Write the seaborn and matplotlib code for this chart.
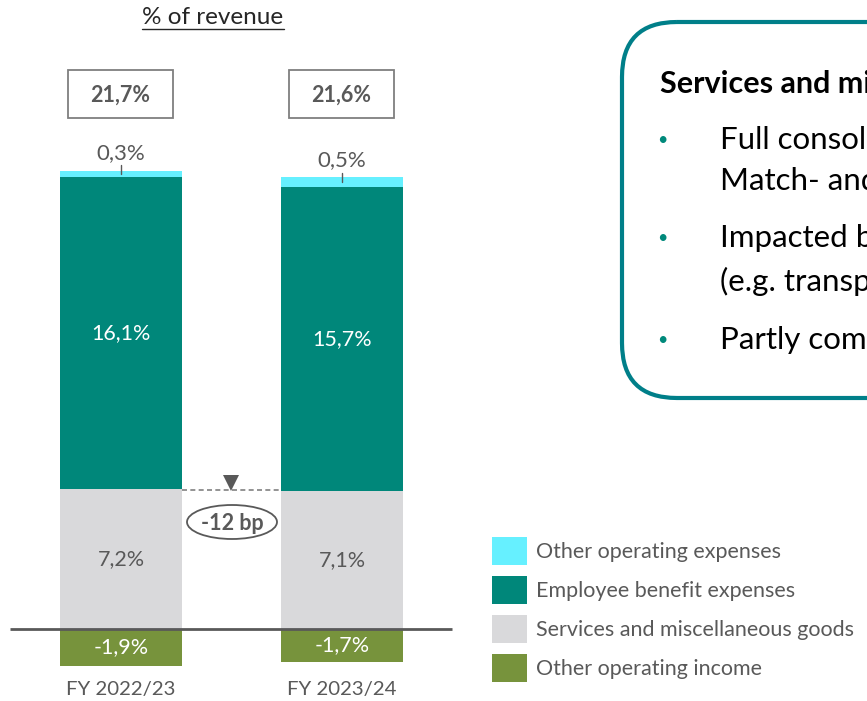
import pandas as pd
import matplotlib.pyplot as plt
import seaborn as sns
from matplotlib.patches import Patch, Rectangle, Ellipse, FancyBboxPatch
from matplotlib.transforms import Affine2D

years = ['FY 2022/23', 'FY 2023/24']
other_opex = [0.3, 0.5]
employee = [16.1, 15.7]
services = [7.2, 7.1]
other_income = [-1.9, -1.7]
total_labels = ['21,7%', '21,6%']
opex_labels = ['0,3%', '0,5%']
employee_labels = ['16,1%', '15,7%']
services_labels = ['7,2%', '7,1%']
income_labels = ['-1,9%', '-1,7%']
delta_label = '-12 bp'
legend_names = ['Other operating expenses', 'Employee benefit expenses',
                'Services and miscellaneous goods', 'Other operating income']
box_title = 'Services and miscellaneous goods'
box_lines = [['Full consolidation of', 'Match- and'],
             ['Impacted by', '(e.g. transport'],
             ['Partly compensated']]

c_opex = '#66F0FF'
c_emp = '#00877A'
c_serv = '#D9D9DB'
c_inc = '#77933C'
grey = '#595959'

sns.set_style('white')
plt.rcParams['font.family'] = ['Lato', 'DejaVu Sans']

W, H = 867, 701
fig = plt.figure(figsize=(W / 100, H / 100), dpi=100)
# pixel coords, origin top-left
px = Affine2D().scale(1 / W, -1 / H).translate(0, 1) + fig.transFigure

ax = fig.add_axes([0, 0, 460 / W, 1])

df = pd.DataFrame({'year': years, 'opex': other_opex, 'emp': employee,
                   'serv': services, 'inc': other_income})
df['top'] = df['serv'] + df['emp'] + df['opex']
df['mid'] = df['serv'] + df['emp']

bw = 122 / 221
for col, c in [('top', c_opex), ('mid', c_emp), ('serv', c_serv), ('inc', c_inc)]:
    sns.barplot(data=df, x='year', y=col, color=c, saturation=1, width=bw,
                errorbar=None, linewidth=0, ax=ax)

ppu = 19.4
ax.set_xlim(-121 / 221, (460 - 121) / 221)
ax.set_ylim(-(H - 629) / ppu, 629 / ppu)
ax.axis('off')

ax.plot([-121 / 221 + 10 / 221, -121 / 221 + 452 / 221], [0, 0], color=grey, lw=2,
        solid_capstyle='butt')

fs = 15.5
for i, row in df.iterrows():
    ax.text(i, row['serv'] + row['emp'] / 2, employee_labels[i], color='white',
            ha='center', va='center', fontsize=fs)
    ax.text(i, row['serv'] / 2, services_labels[i], color=grey,
            ha='center', va='center', fontsize=fs)
    ax.text(i, row['inc'] / 2, income_labels[i], color='white',
            ha='center', va='center', fontsize=fs)
    tick_lo = row['top'] - row['opex'] / 2
    ax.plot([i, i], [tick_lo, tick_lo + 0.48], color=grey, lw=1)
    ax.text(i, tick_lo + 0.58, opex_labels[i], color=grey,
            ha='center', va='bottom', fontsize=16)
    ax.text(i, -(690 - 629) / ppu, years[i], color=grey,
            ha='center', va='center', fontsize=14.7)

# total boxes
for cx, lab in zip([120.5, 341.5], total_labels):
    fig.add_artist(Rectangle((cx - 52.5, 70), 105, 48, transform=px, fill=False,
                             edgecolor='#7F7F7F', lw=1.3))
    fig.text(cx / W, 1 - 95 / H, lab, ha='center', va='center', fontsize=fs,
             fontweight='bold', color=grey)

# delta annotation
y_d = sum(services) / 2
ax.plot([bw / 2, 1 - bw / 2], [y_d, y_d], color='#808080', lw=1.2, ls=(0, (3, 2)))
ax.plot(0.5, y_d + 0.4, marker='v', markersize=12, color=grey, markeredgewidth=0)
fig.add_artist(Ellipse((232, 522), 90, 34, transform=px, fill=False,
                       edgecolor=grey, lw=1.3))
fig.text(232 / W, 1 - 523 / H, delta_label, ha='center', va='center',
         fontsize=fs, fontweight='bold', color=grey)

# title with underline
t = fig.text(213 / W, 1 - 17 / H, '% of revenue', ha='center', va='center',
             fontsize=17.5, color='#262626')
fig.canvas.draw()
bb = t.get_window_extent()
fig.add_artist(plt.Line2D([bb.x0, bb.x1], [H - 28.5, H - 28.5], transform=None,
                          color='#262626', lw=1))

# legend
handles = [Patch(facecolor=c, edgecolor='none') for c in [c_opex, c_emp, c_serv, c_inc]]
fig.legend(handles, legend_names, loc='upper left',
           bbox_to_anchor=(492 / W, 1 - 537 / H), frameon=False, fontsize=fs,
           labelcolor=grey, handlelength=1.62, handleheight=1.6,
           handletextpad=0.41, labelspacing=0.53, borderpad=0, borderaxespad=0)

# comment box
fig.add_artist(FancyBboxPatch((622, 22), 400, 376, transform=px,
                              boxstyle='round,pad=0,rounding_size=55',
                              fill=False, edgecolor='#007F89', lw=3))
fig.text(660 / W, 1 - 84 / H, box_title, ha='left', va='center', fontsize=22,
         fontweight='bold', color='black')
ys = [[140, 181], [238, 281], [340]]
for lines, yy in zip(box_lines, ys):
    fig.text(662 / W, 1 - yy[0] / H, '•', ha='center', va='center',
             fontsize=13, color='#00897B')
    for line, y in zip(lines, yy):
        fig.text(720 / W, 1 - y / H, line, ha='left', va='center',
                 fontsize=22.5, color='black')

fig.savefig('out.png', dpi=100)
